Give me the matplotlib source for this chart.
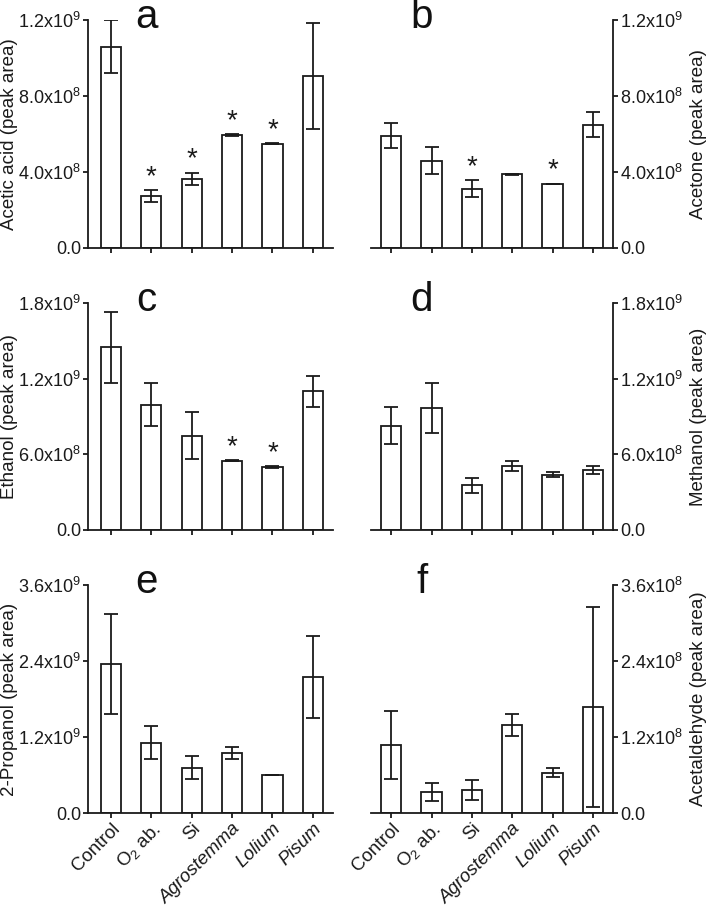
import numpy as np
import matplotlib
matplotlib.use("Agg")
import matplotlib.pyplot as plt
from matplotlib.ticker import FuncFormatter

plt.rcParams['font.family'] = ['Liberation Sans', 'DejaVu Sans']
plt.rcParams['mathtext.fontset'] = 'custom'
plt.rcParams['mathtext.rm'] = 'Liberation Sans'
plt.rcParams['mathtext.it'] = 'Liberation Sans:italic'
plt.rcParams['mathtext.bf'] = 'Liberation Sans:bold'

categories = ["Control", "O$_2$ ab.", "Si", "Agrostemma", "Lolium", "Pisum"]
italic_cats = [False, False, False, True, True, True]

acetic_mean = [1.06e9, 0.274e9, 0.363e9, 0.596e9, 0.549e9, 0.904e9]
acetic_err = [0.14e9, 0.030e9, 0.034e9, 0.004e9, 0.003e9, 0.28e9]
acetic_stars = [1, 2, 3, 4]

acetone_mean = [0.591e9, 0.460e9, 0.311e9, 0.389e9, 0.337e9, 0.649e9]
acetone_err = [0.065e9, 0.073e9, 0.045e9, 0.003e9, 0.002e9, 0.067e9]
acetone_stars = [2, 4]

ethanol_mean = [1.448e9, 0.993e9, 0.749e9, 0.550e9, 0.498e9, 1.099e9]
ethanol_err = [0.28e9, 0.172e9, 0.186e9, 0.004e9, 0.010e9, 0.12e9]
ethanol_stars = [3, 4]

methanol_mean = [0.828e9, 0.969e9, 0.355e9, 0.506e9, 0.439e9, 0.474e9]
methanol_err = [0.15e9, 0.20e9, 0.06e9, 0.042e9, 0.02e9, 0.03e9]
methanol_stars = []

propanol_mean = [2.347e9, 1.113e9, 0.718e9, 0.949e9, 0.596e9, 2.146e9]
propanol_err = [0.79e9, 0.263e9, 0.18e9, 0.10e9, 0.0, 0.65e9]
propanol_stars = []

acetald_mean = [1.075e8, 0.332e8, 0.364e8, 1.387e8, 0.633e8, 1.667e8]
acetald_err = [0.54e8, 0.148e8, 0.158e8, 0.17e8, 0.07e8, 1.58e8]
acetald_stars = []

panels = [
    ("a", "Acetic acid (peak area)", acetic_mean, acetic_err, acetic_stars, [0, 4e8, 8e8, 1.2e9]),
    ("b", "Acetone (peak area)", acetone_mean, acetone_err, acetone_stars, [0, 4e8, 8e8, 1.2e9]),
    ("c", "Ethanol (peak area)", ethanol_mean, ethanol_err, ethanol_stars, [0, 6e8, 1.2e9, 1.8e9]),
    ("d", "Methanol (peak area)", methanol_mean, methanol_err, methanol_stars, [0, 6e8, 1.2e9, 1.8e9]),
    ("e", "2-Propanol (peak area)", propanol_mean, propanol_err, propanol_stars, [0, 1.2e9, 2.4e9, 3.6e9]),
    ("f", "Acetaldehyde (peak area)", acetald_mean, acetald_err, acetald_stars, [0, 1.2e8, 2.4e8, 3.6e8]),
]


def sci_fmt(v, pos):
    if v == 0:
        return "0.0"
    e = int(np.floor(np.log10(abs(v)) + 1e-9))
    m = v / 10 ** e
    return r"%.1fx10$^{%d}$" % (m, e)


W, H = 708, 911
fig = plt.figure(figsize=(W / 100, H / 100), dpi=100)

col_x = [(88, 333), (371, 613)]
row_y = [(20, 248), (303, 530), (585, 813)]

ink = "#1a1a1a"
lw = 1.3
for i, (lab, ylab, mean, err, stars, ticks) in enumerate(panels):
    r, c = divmod(i, 2)
    x0, x1 = col_x[c]
    y0, y1 = row_y[r]
    ax = fig.add_axes([x0 / W, 1 - y1 / H, (x1 - x0) / W, (y1 - y0) / H])
    x = np.arange(len(categories))
    ax.bar(x, mean, width=0.5, color="white", edgecolor=ink, linewidth=lw, zorder=2)
    ax.errorbar(x, mean, yerr=err, fmt="none", ecolor=ink, elinewidth=lw,
                capsize=5, capthick=lw, zorder=3)
    for s in stars:
        ax.annotate("*", (x[s], mean[s] + err[s]), xytext=(0, 0), textcoords="offset points",
                    ha="center", va="bottom", fontsize=20, color=ink)
    ax.set_ylim(0, ticks[-1])
    ax.set_yticks(ticks)
    ax.yaxis.set_major_formatter(FuncFormatter(sci_fmt))
    axw = x1 - x0
    if c == 0:
        ax.set_xlim(-0.57, 5.5)
        ax.spines["right"].set_visible(False)
    else:
        ax.set_xlim(-0.5, 5.5)
        ax.spines["left"].set_visible(False)
        ax.yaxis.tick_right()
        ax.yaxis.set_label_position("right")
    ax.spines["top"].set_visible(False)
    for sp in ax.spines.values():
        sp.set_linewidth(lw)
        sp.set_color(ink)
    ax.tick_params(axis="both", direction="out", length=3.5, width=lw, color=ink,
                   labelsize=13, labelcolor=ink, pad=1.5)
    ax.set_ylabel(ylab, fontsize=13.5, color=ink)
    if c == 0:
        ax.yaxis.set_label_coords((18 - x0) / axw, 0.5)
    else:
        ax.yaxis.set_label_coords((690 - x0) / axw, 0.5)
    ax.set_xticks(x)
    if r == 2:
        ax.set_xticklabels(categories, rotation=45, ha="right", rotation_mode="anchor",
                           fontsize=13.5)
        for tl, it in zip(ax.get_xticklabels(), italic_cats):
            if it:
                tl.set_fontstyle("italic")
    else:
        ax.set_xticklabels([])
    lx = 0.238 if c == 0 else 0.21
    ax.text(lx, 1 - 8 / 228, lab, transform=ax.transAxes, fontsize=29, ha="center",
            va="baseline", color="#111111")

fig.savefig("out.png", dpi=100, facecolor="white")
